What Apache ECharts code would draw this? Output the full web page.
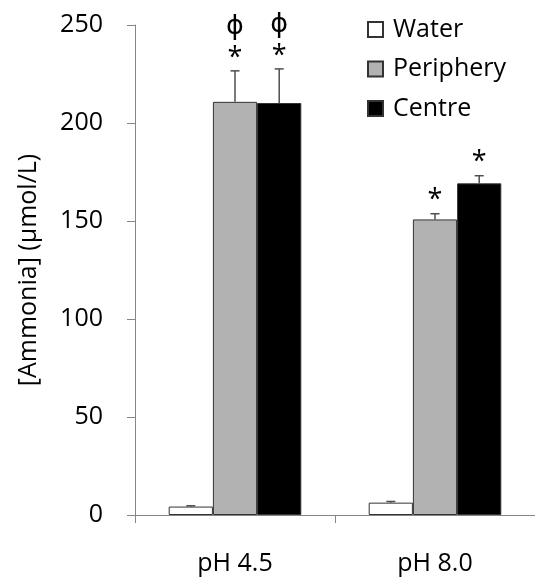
<!DOCTYPE html>
<html>
<head>
<meta charset="utf-8">
<script src="https://cdn.jsdelivr.net/npm/echarts@6/dist/echarts.min.js"></script>
<style>html,body{margin:0;padding:0;background:#fff}#c{width:535px;height:580px}</style>
</head>
<body>
<div id="c"></div>
<script>
const categories = ['pH 4.5', 'pH 8.0'];
const seriesNames = ['Water', 'Periphery', 'Centre'];
const water = [4.3, 6.3];
const waterErr = [0.4, 0.6];
const periphery = [210.8, 150.8];
const peripheryErr = [15.8, 2.9];
const centre = [210.2, 169.2];
const centreErr = [17.4, 3.9];
const peripheryStars = ['*', '*'];
const peripheryPhi = ['ϕ', ''];
const centreStars = ['*', '*'];
const centrePhi = ['ϕ', ''];
const waterStars = ['', ''];
const waterPhi = ['', ''];
const yMin = 0, yMax = 250, yInterval = 50;

const FONT = '"Open Sans", "Liberation Sans", sans-serif';
const GAP = 0.337;
const colors = ['#ffffff', '#b2b2b2', '#000000'];

function errSeries(k, vals, errs, stars, phis) {
  return {
    type: 'custom',
    z: 5,
    silent: true,
    data: vals.map((v, i) => [i, v, errs[i], stars[i], phis[i]]),
    renderItem: function (params, api) {
      const ci = api.value(0), v = api.value(1), e = api.value(2);
      const d = params.dataIndex;
      const base = api.coord([ci, v]);
      const bandW = api.size([1, 0])[0];
      const bw = bandW * (1 - GAP) / 3;
      const x = base[0] + (k - 1) * bw;
      const yTop = api.coord([ci, v + e])[1];
      const children = [
        {type: 'line', shape: {x1: x, y1: base[1], x2: x, y2: yTop}, style: {stroke: '#4d4d4d', lineWidth: 1.5}},
        {type: 'line', shape: {x1: x - 4.5, y1: yTop, x2: x + 4.5, y2: yTop}, style: {stroke: '#4d4d4d', lineWidth: 1.5}}
      ];
      if (stars[d]) children.push({type: 'text', style: {text: stars[d], x: x, y: yTop - 13, align: 'center', verticalAlign: 'middle', font: '27px ' + FONT, fill: '#000'}});
      if (phis[d]) children.push({type: 'text', style: {text: phis[d], x: x, y: yTop - 44, align: 'center', verticalAlign: 'middle', font: '27px "DejaVu Sans", sans-serif', fill: '#000'}});
      return {type: 'group', children: children};
    }
  };
}

const chart = echarts.init(document.getElementById('c'), null, {renderer: 'canvas'});
chart.setOption({
  animation: false,
  backgroundColor: '#fff',
  grid: {left: 135, top: 25, width: 404, height: 490, containLabel: false},
  legend: {
    data: seriesNames,
    orient: 'vertical',
    left: 367,
    top: 17,
    padding: 0,
    itemWidth: 15,
    itemHeight: 15,
    itemGap: 14.5,
    icon: 'rect',
    textStyle: {fontFamily: FONT, fontSize: 25, color: '#000', lineHeight: 25, padding: [0, 0, 0, 5]}
  },
  xAxis: {
    type: 'category',
    data: categories,
    axisLine: {lineStyle: {color: '#868686', width: 1}},
    axisTick: {show: true, alignWithLabel: false, length: 8, lineStyle: {color: '#868686'}},
    axisLabel: {fontFamily: FONT, fontSize: 25, color: '#000', margin: 36}
  },
  yAxis: {
    type: 'value',
    min: yMin, max: yMax, interval: yInterval,
    name: '[Ammonia] (µmol/L)',
    nameLocation: 'middle',
    nameRotate: 90,
    nameGap: 94,
    nameTextStyle: {fontFamily: FONT, fontSize: 25, color: '#000'},
    axisLine: {show: true, lineStyle: {color: '#868686', width: 1}},
    axisTick: {show: true, length: 8, lineStyle: {color: '#868686'}},
    splitLine: {show: false},
    axisLabel: {fontFamily: FONT, fontSize: 25, color: '#000', margin: 32}
  },
  series: [
    {name: 'Water', type: 'bar', data: water, barGap: '0%', barCategoryGap: (GAP * 100) + '%', itemStyle: {color: colors[0], borderColor: '#333', borderWidth: 1}},
    {name: 'Periphery', type: 'bar', data: periphery, barGap: '0%', barCategoryGap: (GAP * 100) + '%', itemStyle: {color: colors[1], borderColor: '#333', borderWidth: 1}},
    {name: 'Centre', type: 'bar', data: centre, barGap: '0%', barCategoryGap: (GAP * 100) + '%', itemStyle: {color: colors[2], borderColor: '#333', borderWidth: 1}},
    errSeries(0, water, waterErr, waterStars, waterPhi),
    errSeries(1, periphery, peripheryErr, peripheryStars, peripheryPhi),
    errSeries(2, centre, centreErr, centreStars, centrePhi)
  ]
});
</script>
</body>
</html>
